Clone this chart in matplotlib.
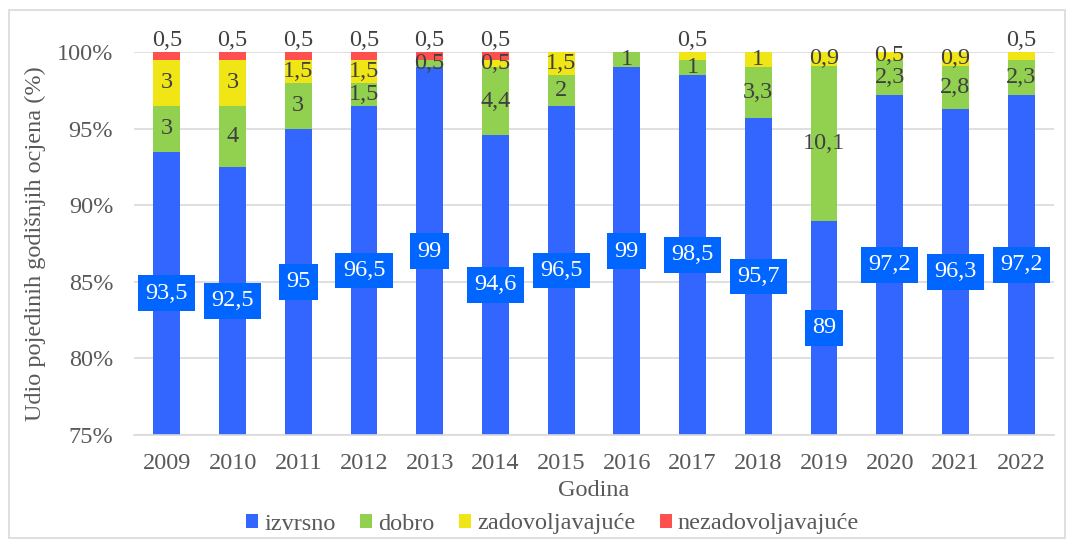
import numpy as np
import matplotlib
matplotlib.use("Agg")
import matplotlib.pyplot as plt
from matplotlib.patches import Rectangle

plt.rcParams['font.family'] = ['Liberation Serif', 'DejaVu Serif']

# podaci
godine = ['2009', '2010', '2011', '2012', '2013', '2014', '2015',
          '2016', '2017', '2018', '2019', '2020', '2021', '2022']
izvrsno = [93.5, 92.5, 95, 96.5, 99, 94.6, 96.5, 99, 98.5, 95.7, 89, 97.2, 96.3, 97.2]
dobro = [3, 4, 3, 1.5, 0.5, 4.4, 2, 1, 1, 3.3, 10.1, 2.3, 2.8, 2.3]
zadovoljavajuce = [3, 3, 1.5, 1.5, 0, 0.5, 1.5, 0, 0.5, 1, 0.9, 0.5, 0.9, 0.5]
nezadovoljavajuce = [0.5, 0.5, 0.5, 0.5, 0.5, 0.5, 0, 0, 0, 0, 0, 0, 0, 0]
zuto_iznad = ['2017', '2022']   # zute oznake iznad stupca

c_izv = '#3366FF'
c_dob = '#92D050'
c_zad = '#F0E515'
c_nez = '#FF5050'
c_txt = '#404040'
c_osi = '#595959'
fs = 17.5

fig = plt.figure(figsize=(10.73, 5.39), dpi=100)
ax = fig.add_axes([134/1073, 1 - 435/539, 920/1073, 383/539])

x = np.arange(len(godine))
w = 0.41
izv = np.array(izvrsno)
dob = np.array(dobro)
zad = np.array(zadovoljavajuce)
nez = np.array(nezadovoljavajuce)

ax.bar(x, izv, w, color=c_izv, label='izvrsno', zorder=2)
ax.bar(x, dob, w, bottom=izv, color=c_dob, label='dobro', zorder=2)
ax.bar(x, zad, w, bottom=izv + dob, color=c_zad, label='zadovoljavajuće', zorder=2)
ax.bar(x, nez, w, bottom=izv + dob + zad, color=c_nez, label='nezadovoljavajuće', zorder=2)

ax.set_ylim(75, 100)
ax.set_xlim(-0.5, len(godine) - 0.5)
ax.set_yticks([75, 80, 85, 90, 95, 100])
ax.set_yticklabels(['75%', '80%', '85%', '90%', '95%', '100%'])
ax.set_xticks(x)
ax.set_xticklabels(godine)
ax.tick_params(length=0, labelsize=fs, labelcolor=c_osi)
ax.tick_params(axis='x', pad=13)
ax.tick_params(axis='y', pad=15)
ax.grid(axis='y', color='#D9D9D9', linewidth=1.2, zorder=0)
for s in ['top', 'right', 'left']:
    ax.spines[s].set_visible(False)
ax.spines['bottom'].set_color('#D9D9D9')
ax.spines['bottom'].set_linewidth(1.2)

ax.set_xlabel('Godina', fontsize=fs, color=c_osi, labelpad=4)
ax.set_ylabel('Udio pojedinih godišnjih ocjena (%)', fontsize=fs, color=c_osi, labelpad=8)


def fmt(v):
    return ('%g' % v).replace('.', ',')


for i in range(len(godine)):
    # izvrsno - bijeli tekst u plavom okviru
    ax.text(x[i], (75 + izv[i]) / 2, fmt(izv[i]), ha='center', va='center',
            fontsize=fs, color='white', zorder=4, clip_on=False,
            bbox=dict(boxstyle='square,pad=0.3', fc='#0066FF', ec='none'))
    if dob[i] > 0:
        ax.text(x[i], izv[i] + dob[i] / 2, fmt(dob[i]), ha='center', va='center',
                fontsize=fs, color=c_txt, zorder=4)
    if zad[i] > 0:
        if godine[i] in zuto_iznad:
            ax.text(x[i], 100.05, fmt(zad[i]), ha='center', va='bottom',
                    fontsize=fs, color=c_txt, zorder=4, clip_on=False)
        else:
            ax.text(x[i], izv[i] + dob[i] + zad[i] / 2, fmt(zad[i]), ha='center',
                    va='center', fontsize=fs, color=c_txt, zorder=4)
    if nez[i] > 0:
        ax.text(x[i], 100.05, fmt(nez[i]), ha='center', va='bottom',
                fontsize=fs, color=c_txt, zorder=4, clip_on=False)

leg = fig.legend(loc='center', bbox_to_anchor=(0.515, 1 - 524/539), ncol=4,
                 frameon=False, fontsize=fs, handlelength=0.5, handleheight=0.5,
                 handletextpad=0.25, columnspacing=1.0)
for t in leg.get_texts():
    t.set_color(c_osi)

fig.patches.append(Rectangle((9/1073, 1/539), 1056/1073, 528/539, transform=fig.transFigure,
                             fill=False, ec='#D9D9D9', lw=1.2))

fig.savefig('out.png', dpi=100)
